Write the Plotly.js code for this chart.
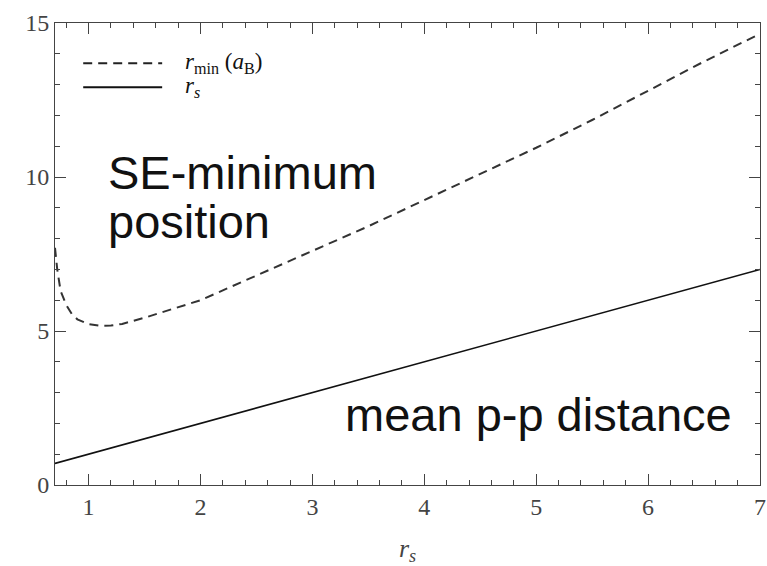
<!DOCTYPE html>
<html>
<head>
<meta charset="utf-8">
<script src="https://cdn.plot.ly/plotly-3.0.1.min.js"></script>
<style>html,body{margin:0;padding:0;background:#fff;overflow:hidden;}</style>
</head>
<body>
<div id="chart"></div>
<script>
// r_s values (x axis)
const rsGrid = [0.7, 0.72, 0.75, 0.8, 0.85, 0.9, 1.0, 1.1, 1.2, 1.3, 1.5, 1.75, 2.0, 2.5, 3.0, 3.5, 4.0, 4.5, 5.0, 5.5, 6.0, 6.5, 7.0];
// SE-minimum position r_min (a_B)
const rMin = [7.7, 7.0, 6.3, 5.85, 5.55, 5.38, 5.22, 5.17, 5.18, 5.23, 5.43, 5.72, 6.0, 6.8, 7.6, 8.4, 9.25, 10.1, 10.95, 11.85, 12.8, 13.75, 14.65];
// mean p-p distance r_s
const rsLineX = [0.7, 1, 2, 3, 4, 5, 6, 7];
const rsLineY = [0.7, 1, 2, 3, 4, 5, 6, 7];
const xTicks = [1, 2, 3, 4, 5, 6, 7];
const yTicks = [0, 5, 10, 15];

const serif = 'Liberation Serif, Times New Roman, serif';
const sans = 'Liberation Sans, Arial, sans-serif';

const traces = [
  {x: rsGrid, y: rMin, mode: 'lines', line: {color: '#333', width: 2, dash: '9px,6px'}, name: 'rmin', showlegend: false},
  {x: rsLineX, y: rsLineY, mode: 'lines', line: {color: '#111', width: 1.6}, name: 'rs', showlegend: false}
];

const layout = {
  width: 767, height: 566,
  margin: {l: 55, r: 7, t: 23, b: 81},
  xaxis: {
    showgrid: false, showline: true, mirror: 'ticks', ticks: 'inside', ticklen: 11,
    tickfont: {family: serif, size: 24},
    range: [0.7, 7], tickvals: xTicks,
    minor: {dtick: 0.2, ticks: 'inside', ticklen: 5},
    title: {text: '<i>r</i><sub><i>s</i></sub>', font: {family: serif, size: 26}, standoff: 20}
  },
  yaxis: {
    showgrid: false, showline: true, mirror: 'ticks', ticks: 'inside', ticklen: 11,
    tickfont: {family: serif, size: 24},
    range: [0, 15], tickvals: yTicks,
    minor: {dtick: 1, ticks: 'inside', ticklen: 5}
  },
  shapes: [
    {type: 'line', xref: 'paper', yref: 'paper', x0: 0.04, x1: 0.152, y0: 0.913, y1: 0.913, line: {color: '#222', width: 2, dash: '9px,6px'}},
    {type: 'line', xref: 'paper', yref: 'paper', x0: 0.04, x1: 0.152, y0: 0.861, y1: 0.861, line: {color: '#111', width: 2}}
  ],
  annotations: [
    {xref: 'paper', yref: 'paper', x: 0.181, y: 0.913, xanchor: 'left', yanchor: 'middle', showarrow: false,
     text: '<i>r</i><sub>min</sub> (<i>a</i><sub>B</sub>)', font: {family: serif, size: 23, color: '#111'}},
    {xref: 'paper', yref: 'paper', x: 0.181, y: 0.861, xanchor: 'left', yanchor: 'middle', showarrow: false,
     text: '<i>r</i><sub><i>s</i></sub>', font: {family: serif, size: 23, color: '#111'}},
    {xref: 'paper', yref: 'paper', x: 0.072, y: 0.677, xanchor: 'left', yanchor: 'middle', showarrow: false,
     text: 'SE-minimum', font: {family: sans, size: 47, color: '#111'}},
    {xref: 'paper', yref: 'paper', x: 0.072, y: 0.570, xanchor: 'left', yanchor: 'middle', showarrow: false,
     text: 'position', font: {family: sans, size: 47, color: '#111'}},
    {xref: 'paper', yref: 'paper', x: 0.408, y: 0.152, xanchor: 'left', yanchor: 'middle', showarrow: false,
     text: 'mean p-p distance', font: {family: sans, size: 47, color: '#111'}}
  ]
};

Plotly.newPlot('chart', traces, layout, {displayModeBar: false});
</script>
</body>
</html>
